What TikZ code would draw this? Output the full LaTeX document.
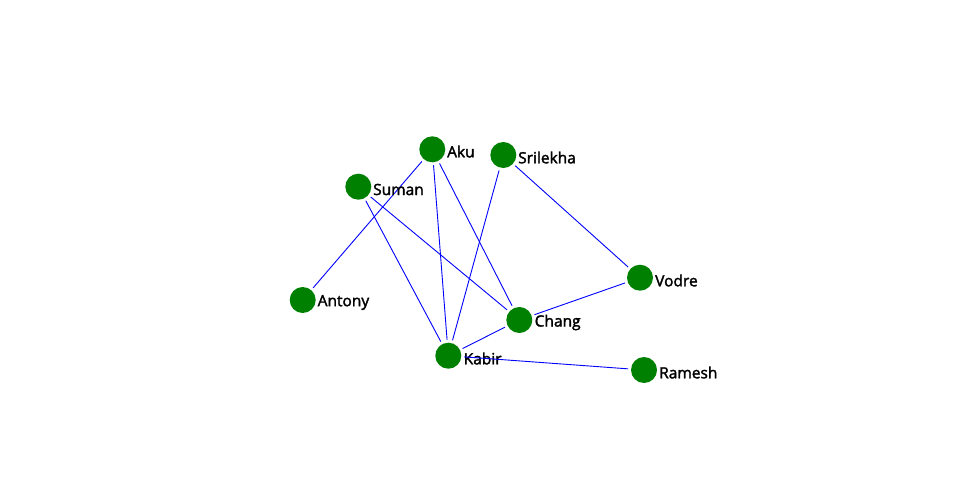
\documentclass[tikz,border=0pt]{standalone}
\usepackage{fontspec}
\setmainfont{Open Sans}
\newfontfamily\lblfont{Open Sans}[BoldFont={Open Sans},BoldFeatures={FakeBold=2}]
\begin{document}
\begin{tikzpicture}[x=1pt,y=-1pt,
  vtx/.style={circle,fill={rgb,255:red,0;green,128;blue,0},minimum size=26pt,inner sep=0pt,outer sep=3pt},
  lbl/.style={anchor=west,inner sep=0pt,font=\lblfont\bfseries\fontsize{15.5}{17}\selectfont},
  edge/.style={draw={rgb,255:red,0;green,0;blue,255},line width=0.9pt}]
\useasboundingbox (0,0) rectangle (960,500);
\node[vtx] (aku) at (432.3,149.3) {};
\node[vtx] (sri) at (503.3,155) {};
\node[vtx] (sum) at (358.3,186.7) {};
\node[vtx] (ant) at (302.7,300) {};
\node[vtx] (cha) at (519.3,320) {};
\node[vtx] (kab) at (448.3,355.7) {};
\node[vtx] (vod) at (640,277.7) {};
\node[vtx] (ram) at (644,370) {};
\path[edge] (aku) -- (ant);
\path[edge] (aku) -- (kab);
\path[edge] (aku) -- (cha);
\path[edge] (sum) -- (kab);
\path[edge] (sum) -- (cha);
\path[edge] (sri) -- (kab);
\path[edge] (sri) -- (vod);
\path[edge] (vod) -- (cha);
\path[edge] (cha) -- (kab);
\node[lbl] (laku) at (447,151.5) {Aku};
\node[lbl] (lsri) at (518,157.5) {Srilekha};
\node[lbl] (lsum) at (373,189.5) {Suman};
\node[lbl] (lant) at (317.5,302.5) {Antony};
\node[lbl] (lcha) at (534.5,322.5) {Chang};
\node[lbl] (lkab) at (463.5,358.5) {Kabir};
\node[lbl] (lvod) at (655,280.5) {Vodre};
\node[lbl] (lram) at (659,372.5) {Ramesh};
\path[edge] (kab) -- (ram);
\end{tikzpicture}
\end{document}
